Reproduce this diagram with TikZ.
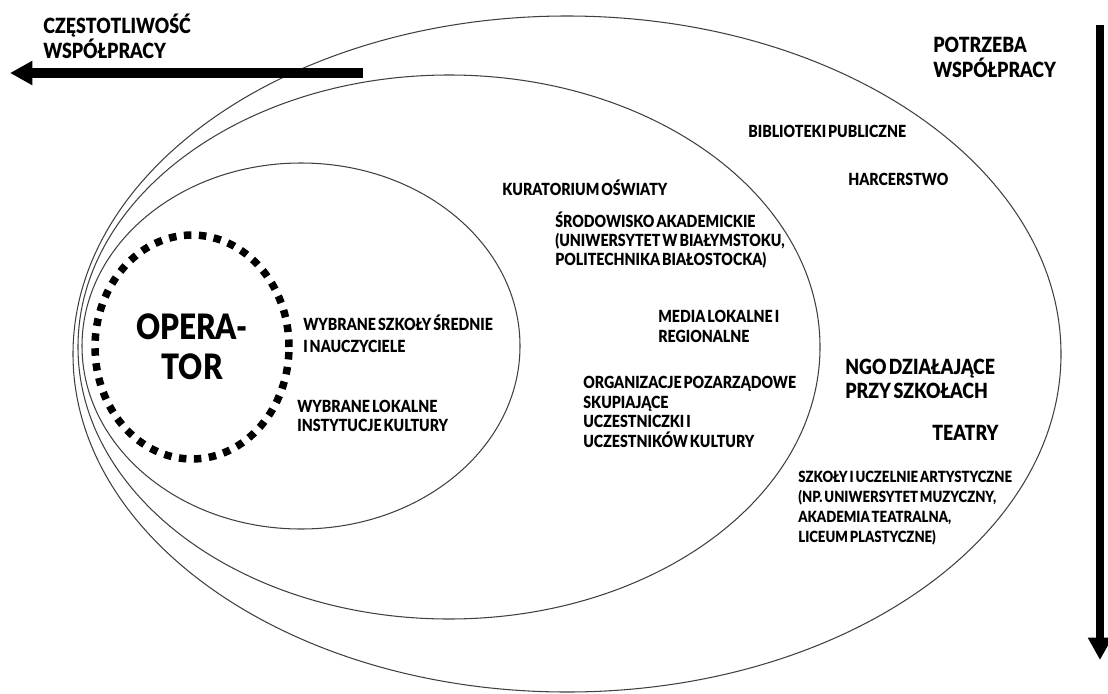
\documentclass[tikz,border=0pt]{standalone}
\usepackage{fontspec}
\setmainfont{Lato}[FakeStretch=0.85, WordSpace=0.6, BoldFont={Lato Black}]
\usetikzlibrary{arrows.meta,shapes.geometric}

\tikzset{
    ring/.style={draw=black!75, line width=0.6pt},
    % multi-line entries are placed by the baseline of their last line
    entry/.style={anchor=base west, inner sep=0pt, align=left,
        font=\bfseries\fontsize{9.5}{11.1}\selectfont},
    bigentry/.style={entry, font=\bfseries\fontsize{11.9}{13.1}\selectfont},
    smallentry/.style={entry, font=\bfseries\fontsize{8.8}{11.2}\selectfont},
    opnode/.style={ellipse, draw, line width=0.15cm, dash pattern=on 0.15cm off 0.15cm,
        minimum width=3.88cm, minimum height=4.48cm, align=center, inner sep=0pt,
        font=\bfseries\fontsize{19.9}{22.8}\selectfont},
    axisarrow/.style={line width=#1, -{Triangle[length=0.45cm,width=0.46cm]}},
}

\begin{document}
\begin{tikzpicture}[x=0.02cm, y=-0.02cm]
    \useasboundingbox (0,0) rectangle (1108,693);

    % Rings: outer, middle, inner
    \foreach \cx/\cy/\rx/\ry in {567/354/494/338, 449/347/371/272, 301/346/219/183} {
        \draw[ring] (\cx,\cy) ellipse [x radius=\rx, y radius=\ry];
    }

    % Operator in the middle
    \node[opnode] (operator) at (192,347) {OPERA-\\TOR};

    % Axes
    \coordinate (freqstart) at (363,73);
    \coordinate (freqend) at (10,73);
    \draw[axisarrow=0.2cm] (freqstart) -- (freqend);
    \node[bigentry, font=\bfseries\fontsize{11.9}{14.2}\selectfont] (freq) at (43,58) {CZĘSTOTLIWOŚĆ\\WSPÓŁPRACY};

    \coordinate (needstart) at (1100,25);
    \coordinate (needend) at (1100,660);
    \draw[axisarrow=0.16cm] (needstart) -- (needend);
    \node[bigentry, font=\bfseries\fontsize{11.9}{13.7}\selectfont] (need) at (933,77) {POTRZEBA\\WSPÓŁPRACY};

    % Inner ring
    \node[entry, font=\bfseries\fontsize{9.5}{12.3}\selectfont] (schools) at (303,352) {WYBRANE SZKOŁY ŚREDNIE\\I NAUCZYCIELE};
    \node[entry, font=\bfseries\fontsize{9.5}{10.3}\selectfont] (culture) at (297,431) {WYBRANE LOKALNE\\INSTYTUCJE KULTURY};

    % Middle ring
    \node[entry] (kurator) at (502,195) {KURATORIUM OŚWIATY};
    \node[entry, font=\bfseries\fontsize{9.5}{10.8}\selectfont] (academia) at (555,265) {ŚRODOWISKO AKADEMICKIE\\(UNIWERSYTET W BIAŁYMSTOKU,\\POLITECHNIKA BIAŁOSTOCKA)};
    \node[entry] (media) at (658,342) {MEDIA LOKALNE I\\REGIONALNE};
    \node[entry] (ngos) at (583,447) {ORGANIZACJE POZARZĄDOWE\\SKUPIAJĄCE\\UCZESTNICZKI I\\UCZESTNIKÓW KULTURY};

    % Outer ring
    \node[entry] (libraries) at (748,137) {BIBLIOTEKI PUBLICZNE};
    \node[entry] (scouts) at (848,185) {HARCERSTWO};
    \node[bigentry] (schoolngo) at (845,398) {NGO DZIAŁAJĄCE\\PRZY SZKOŁACH};
    \node[bigentry] (theatres) at (932,440) {TEATRY};
    \node[smallentry] (artschools) at (798,542) {SZKOŁY I UCZELNIE ARTYSTYCZNE\\(NP. UNIWERSYTET MUZYCZNY,\\AKADEMIA TEATRALNA,\\LICEUM PLASTYCZNE)};
\end{tikzpicture}
\end{document}
